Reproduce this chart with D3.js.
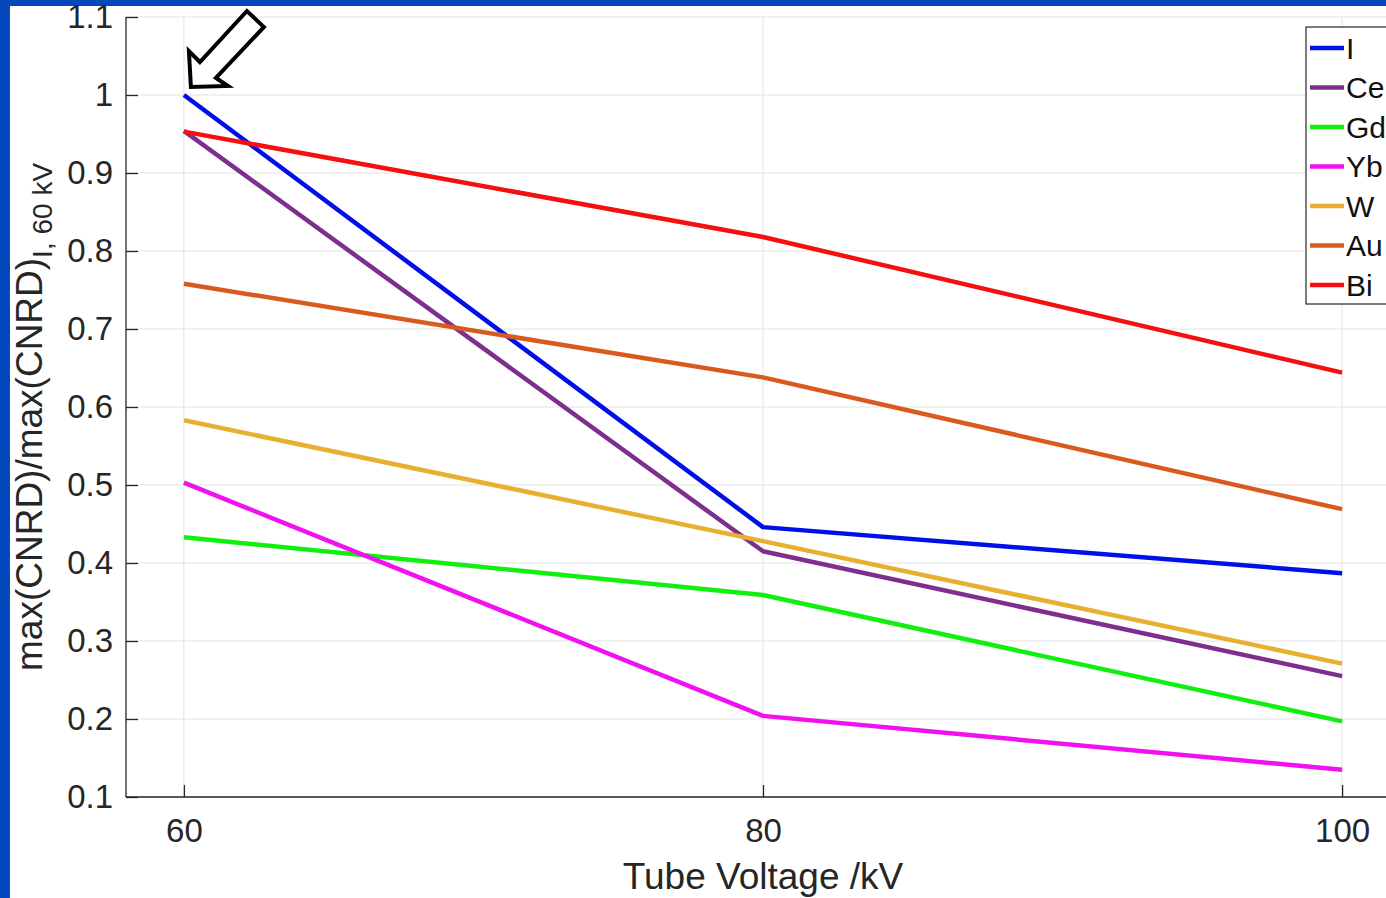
<!DOCTYPE html>
<meta charset="utf-8">
<style>
body { margin: 0; background: #fff; }
svg { display: block; font-family: Arial, "Liberation Sans", sans-serif; }
.grid line { stroke: #e3e3e3; stroke-width: 1; }
.axis path, .axis line { stroke: #262626; stroke-width: 1.3; }
.axis text { fill: #262626; font-size: 33px; }
</style>
<body>
<div id="chart"></div>
<script src="https://d3js.org/d3.v7.min.js"></script>
<script>
// tube voltages (kV)
var voltages = [60, 80, 100];
var yTicks = [0.1, 0.2, 0.3, 0.4, 0.5, 0.6, 0.7, 0.8, 0.9, 1, 1.1];

// max(CNRD) normalised to iodine at 60 kV
var series = ["I", "Ce", "Gd", "Yb", "W", "Au", "Bi"];
var valI  = [1.000, 0.446, 0.387];
var valCe = [0.954, 0.415, 0.255];
var valGd = [0.433, 0.359, 0.197];
var valYb = [0.503, 0.204, 0.135];
var valW  = [0.583, 0.428, 0.271];
var valAu = [0.758, 0.638, 0.469];
var valBi = [0.953, 0.818, 0.644];
var colors = ["#0010e8", "#7e2f8e", "#10f010", "#f010f0", "#e8b030", "#d95a1e", "#f50f0f"];

var values = [valI, valCe, valGd, valYb, valW, valAu, valBi];

var W = 1386, H = 898;
var svg = d3.select("#chart").append("svg")
    .attr("width", W).attr("height", H);

// blue slide frame on left / top
svg.append("rect").attr("width", W).attr("height", H).attr("fill", "#0547bd");
svg.append("rect").attr("x", 10).attr("y", 6).attr("width", W).attr("height", H).attr("fill", "#fff");

var x = d3.scaleLinear().domain([58, 102]).range([126, 1400]);
var y = d3.scaleLinear().domain([0.1, 1.1]).range([797, 17]);

// grid
var grid = svg.append("g").attr("class", "grid");
grid.selectAll(".gy").data(yTicks).enter().append("line")
    .attr("x1", x(58)).attr("x2", W)
    .attr("y1", function(d) { return y(d); })
    .attr("y2", function(d) { return y(d); });
grid.selectAll(".gx").data(voltages).enter().append("line")
    .attr("y1", y(0.1)).attr("y2", y(1.1))
    .attr("x1", function(d) { return x(d); })
    .attr("x2", function(d) { return x(d); });

// axes (MATLAB-style inward ticks)
var xAxis = svg.append("g").attr("class", "axis")
    .attr("transform", "translate(0," + y(0.1) + ")")
    .call(d3.axisBottom(x).tickValues(voltages).tickSize(-12).tickSizeOuter(0).tickPadding(22));
xAxis.selectAll("text").attr("dy", "0.71em");

var yAxis = svg.append("g").attr("class", "axis")
    .attr("transform", "translate(" + x(58) + ",0)")
    .call(d3.axisLeft(y).tickValues(yTicks).tickSize(-12).tickSizeOuter(0).tickPadding(13)
      .tickFormat(function(d) { return d3.format("")(+d.toFixed(1)); }));
yAxis.select(".domain").attr("d", "M0," + y(1.1) + "V" + y(0.1));
xAxis.select(".domain").attr("d", "M" + x(58) + ",0H" + W);

// lines
var line = d3.line()
    .x(function(d, i) { return x(voltages[i]); })
    .y(function(d) { return y(d); });

svg.append("g").selectAll("path").data(values).enter().append("path")
    .attr("d", line)
    .attr("fill", "none")
    .attr("stroke", function(d, i) { return colors[i]; })
    .attr("stroke-width", 4.5)
    .attr("stroke-linejoin", "round");

// legend
var lg = svg.append("g").attr("transform", "translate(1306,27)");
lg.append("rect").attr("width", 100).attr("height", 277)
    .attr("fill", "#fff").attr("stroke", "#262626").attr("stroke-width", 1.2);
var item = lg.selectAll(".item").data(series).enter().append("g")
    .attr("transform", function(d, i) { return "translate(0," + (21 + i * 39.5) + ")"; });
item.append("line").attr("x1", 4).attr("x2", 38)
    .attr("stroke", function(d, i) { return colors[i]; })
    .attr("stroke-width", 4.5);
item.append("text").attr("x", 40).attr("dy", "0.36em")
    .attr("font-size", 30).attr("fill", "#111")
    .text(function(d) { return d; });

// axis labels
svg.append("text")
    .attr("x", x(80)).attr("y", 889)
    .attr("text-anchor", "middle").attr("font-size", 37).attr("fill", "#262626")
    .text("Tube Voltage /kV");

var yl = svg.append("text")
    .attr("transform", "translate(42,671) rotate(-90)")
    .attr("font-size", 37).attr("fill", "#262626");
yl.append("tspan").text("max(CNRD)/max(CNRD)");
yl.append("tspan").attr("dy", 10).attr("font-size", 28).text("I, 60 kV");

// arrow pointing at I, 60 kV
var ax = x(60) + 7, ay = y(1) - 8;
var arrowPts = [[0, 0], [-2, -36], [9, -25], [56, -76], [73, -60], [25, -9], [37, -1]];
svg.append("polygon")
    .attr("points", arrowPts.map(function(p) { return (ax + p[0]) + "," + (ay + p[1]); }).join(" "))
    .attr("fill", "#fff").attr("stroke", "#000").attr("stroke-width", 4)
    .attr("stroke-linejoin", "miter");
</script>
</body>
